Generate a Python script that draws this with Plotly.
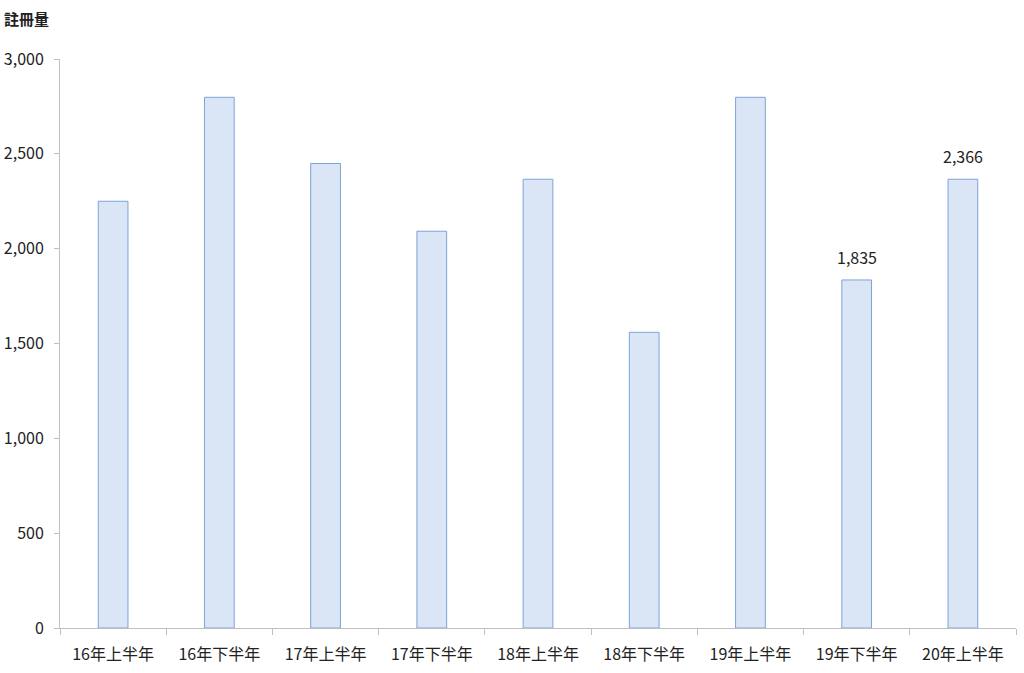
import plotly.graph_objs as go

# half-year periods and registrations
periods = ['16年上半年', '16年下半年', '17年上半年', '17年下半年', '18年上半年',
           '18年下半年', '19年上半年', '19年下半年', '20年上半年']
registrations = [2250, 2798, 2449, 2092, 2366, 1559, 2798, 1835, 2366]
# only the last two bars carry a value label
labelled = [False, False, False, False, False, False, False, True, True]

font_family = 'Noto Sans CJK KR'

bars = go.Bar(x=periods, y=registrations, hoverinfo='skip',
              marker=dict(color='#DAE6F6',
                          line=dict(color='#7DA3D8', width=1)))

fig = go.Figure(bars)

# value labels above the last two bars
for p, v, show in zip(periods, registrations, labelled):
    if show:
        fig.add_annotation(x=p, y=v, text=f'{v:,}', showarrow=False,
                           yanchor='bottom', yshift=9,
                           font=dict(family=font_family, size=16, color='#222222'))

fig.update_yaxes(range=[0, 3000], tickvals=[0, 500, 1000, 1500, 2000, 2500, 3000],
                 tickformat=',', showgrid=False, zeroline=False,
                 showline=True, linecolor='#BFBFBF', linewidth=1,
                 ticks='outside', ticklen=5, tickcolor='#BFBFBF',
                 ticklabelstandoff=7,
                 tickfont=dict(family=font_family, size=16, color='#222222'))

fig.update_xaxes(showline=True, linecolor='#BFBFBF', linewidth=1,
                 ticks='outside', tickson='boundaries', ticklen=6,
                 tickcolor='#BFBFBF', showgrid=False,
                 ticklabelstandoff=12,
                 tickfont=dict(family=font_family, size=16, color='#222222'))

# axis caption in the top-left corner
fig.add_annotation(text='<b>註冊量</b>', xref='paper', yref='paper',
                   x=-0.061, y=1.0, yshift=41, xanchor='left', yanchor='middle',
                   showarrow=False,
                   font=dict(family=font_family, size=15, color='#222222'))

fig.update_layout(width=1024, height=673, bargap=0.72,
                  plot_bgcolor='white', paper_bgcolor='white',
                  margin=dict(l=60, r=8, t=59, b=45, autoexpand=False),
                  showlegend=False)

# drop the default page margin so the figure sits at the window corner
fig.write_html("out.html", config={'displayModeBar': False},
               post_script="document.body.style.margin='0';")
